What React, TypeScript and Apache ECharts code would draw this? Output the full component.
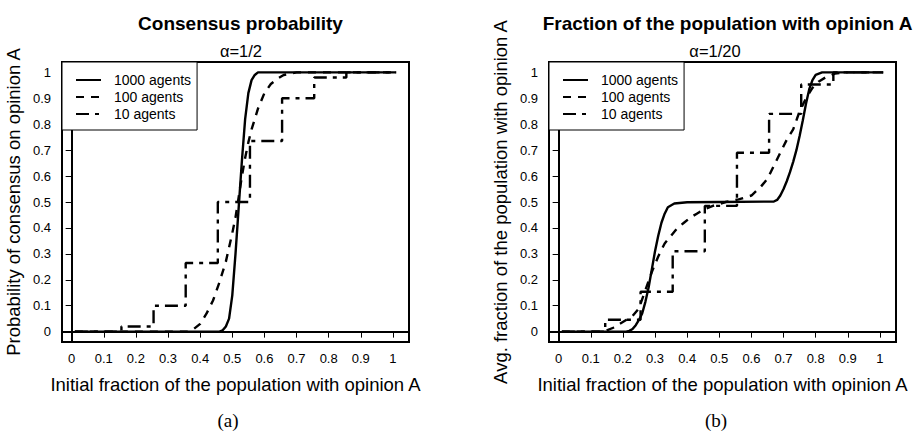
import React, { useEffect, useRef } from "react";
import * as echarts from "echarts";

const TICKS = [0, 0.1, 0.2, 0.3, 0.4, 0.5, 0.6, 0.7, 0.8, 0.9, 1];
const SERIES_NAMES = ["1000 agents", "100 agents", "10 agents"];

// Panel (a): consensus probability, alpha = 1/2
const A_1000_X = [0.01, 0.46, 0.47, 0.48, 0.49, 0.5, 0.51, 0.52, 0.53, 0.54, 0.55, 0.56, 0.57, 0.58, 1.01];
const A_1000_Y = [0, 0, 0.005, 0.02, 0.05, 0.14, 0.3, 0.48, 0.66, 0.82, 0.92, 0.97, 0.99, 1, 1];
const A_100_X = [0.01, 0.36, 0.38, 0.4, 0.42, 0.44, 0.46, 0.48, 0.5, 0.51, 0.52, 0.53, 0.54, 0.55, 0.56, 0.58, 0.6, 0.62, 0.64, 0.66, 0.7, 1.01];
const A_100_Y = [0, 0, 0.01, 0.03, 0.07, 0.12, 0.19, 0.27, 0.38, 0.44, 0.52, 0.6, 0.67, 0.73, 0.78, 0.86, 0.92, 0.955, 0.975, 0.99, 1, 1];
const A_10_X = [0.01, 0.155, 0.255, 0.355, 0.455, 0.555, 0.655, 0.755, 0.855, 1.01];
const A_10_Y = [0, 0.02, 0.1, 0.265, 0.5, 0.735, 0.9, 0.98, 1, 1];

// Panel (b): fraction with opinion A, alpha = 1/20
const B_1000_X = [0.01, 0.21, 0.22, 0.23, 0.24, 0.25, 0.26, 0.27, 0.28, 0.29, 0.3, 0.31, 0.32, 0.33, 0.34, 0.36, 0.4, 0.5, 0.67, 0.68, 0.69, 0.7, 0.71, 0.72, 0.73, 0.74, 0.75, 0.76, 0.77, 0.78, 0.79, 0.8, 0.82, 1.01];
const B_1000_Y = [0, 0, 0.003, 0.01, 0.025, 0.045, 0.07, 0.115, 0.17, 0.24, 0.31, 0.37, 0.42, 0.455, 0.48, 0.494, 0.499, 0.5, 0.502, 0.508, 0.525, 0.55, 0.58, 0.615, 0.655, 0.7, 0.755, 0.815, 0.88, 0.935, 0.97, 0.99, 1, 1];
const B_100_X = [0.01, 0.14, 0.15, 0.17, 0.19, 0.21, 0.23, 0.25, 0.27, 0.29, 0.31, 0.33, 0.35, 0.37, 0.39, 0.41, 0.43, 0.45, 0.48, 0.52, 0.56, 0.6, 0.63, 0.65, 0.67, 0.69, 0.71, 0.73, 0.75, 0.77, 0.79, 0.81, 0.83, 0.86, 0.89, 1.01];
const B_100_Y = [0, 0, 0.005, 0.015, 0.03, 0.045, 0.06, 0.09, 0.16, 0.23, 0.29, 0.34, 0.37, 0.4, 0.42, 0.44, 0.455, 0.47, 0.485, 0.5, 0.51, 0.525, 0.56, 0.59, 0.64, 0.69, 0.74, 0.78, 0.85, 0.9, 0.94, 0.965, 0.98, 0.995, 1, 1];
const B_10_X = [0.01, 0.145, 0.255, 0.355, 0.455, 0.555, 0.655, 0.755, 0.855, 1.01];
const B_10_Y = [0, 0.046, 0.154, 0.31, 0.485, 0.69, 0.84, 0.953, 1, 1];

const FONT = "'Liberation Sans', Arial, Helvetica, sans-serif";
const SERIF = "'Liberation Serif', 'DejaVu Serif', serif";
const pairs = (xs: number[], ys: number[]) => xs.map((x, i) => [x, ys[i]]);

const GRID_W = 347;
const GRID_H = 280;
const GRID_TOP = 62;
const GRID_LEFTS = [62, 549];

function makeXAxis(gridIndex: number) {
  return {
    gridIndex,
    type: "value",
    min: -0.03,
    max: 1.05,
    axisLine: { show: true, lineStyle: { color: "#000", width: 2 } },
    axisTick: { show: true, inside: false, length: 6, customValues: TICKS, lineStyle: { color: "#000", width: 1 } },
    axisLabel: { customValues: TICKS, formatter: (v: number) => String(v), fontSize: 13, color: "#000", margin: 10, fontFamily: FONT },
    splitLine: { show: false },
    name: "Initial fraction of the population with opinion A",
    nameLocation: "middle",
    nameGap: 33,
    nameTextStyle: { fontSize: 18.5, color: "#000", fontFamily: FONT },
  };
}

function makeYAxis(gridIndex: number, name: string) {
  return {
    gridIndex,
    type: "value",
    min: -0.04,
    max: 1.04,
    axisLine: { show: true, lineStyle: { color: "#000", width: 2 } },
    axisTick: { show: true, inside: false, length: 6, customValues: TICKS, lineStyle: { color: "#000", width: 1 } },
    axisLabel: { customValues: TICKS, formatter: (v: number) => String(v), fontSize: 13, color: "#000", margin: 11, fontFamily: FONT },
    splitLine: { show: false },
    name,
    nameLocation: "middle",
    nameGap: 39,
    nameTextStyle: { fontSize: 18.5, color: "#000", fontFamily: FONT },
  };
}

const LINE_STYLES = [
  { color: "#000", width: 2.4, type: "solid" },
  { color: "#000", width: 2.4, type: [8, 7] },
  { color: "#000", width: 2.4, type: [13, 6, 4, 6] },
];

function makeSeries(idx: number, data: number[][][]) {
  return data.map((d, k) => ({
    name: SERIES_NAMES[k],
    type: "line",
    xAxisIndex: idx,
    yAxisIndex: idx,
    data: d,
    symbol: "none",
    step: k === 2 ? "end" : undefined,
    lineStyle: LINE_STYLES[k],
    itemStyle: { color: "#000" },
    z: 3 - k,
  }));
}

function makeLegend(left: number) {
  return {
    data: SERIES_NAMES,
    left,
    top: GRID_TOP,
    orient: "vertical",
    borderColor: "#000",
    borderWidth: 1,
    backgroundColor: "#fff",
    padding: [11, 6, 9, 13],
    itemGap: 3,
    itemWidth: 25,
    itemHeight: 14,
    selectedMode: false,
    itemStyle: { color: "rgba(0,0,0,0)", borderColor: "rgba(0,0,0,0)", borderWidth: 0, opacity: 0 },
    textStyle: { fontSize: 14, color: "#000", fontFamily: FONT, padding: [0, 0, 0, 8] },
  };
}

export default function App() {
  const ref = useRef<HTMLDivElement>(null);
  useEffect(() => {
    if (!ref.current) return;
    const chart = echarts.init(ref.current, null, { renderer: "svg" });
    chart.setOption({
      animation: false,
      backgroundColor: "#fff",
      title: [
        { text: "Consensus probability", left: 235.5, top: 9, textAlign: "center", textStyle: { fontSize: 19, fontWeight: "bold", color: "#000", fontFamily: FONT } },
        { text: "α=1/2", left: 236, top: 37, textAlign: "center", textStyle: { fontSize: 16.5, fontWeight: "normal", color: "#000", fontFamily: FONT } },
        { text: "Fraction of the population with opinion A", left: 722.5, top: 9, textAlign: "center", textStyle: { fontSize: 19, fontWeight: "bold", color: "#000", fontFamily: FONT } },
        { text: "α=1/20", left: 710, top: 37, textAlign: "center", textStyle: { fontSize: 16.5, fontWeight: "normal", color: "#000", fontFamily: FONT } },
        { text: "(a)", left: 228, top: 410, padding: 0, textAlign: "center", textStyle: { fontSize: 19, lineHeight: 20, fontWeight: "normal", color: "#000", fontFamily: SERIF } },
        { text: "(b)", left: 716, top: 410, padding: 0, textAlign: "center", textStyle: { fontSize: 19, lineHeight: 20, fontWeight: "normal", color: "#000", fontFamily: SERIF } },
      ],
      legend: [makeLegend(GRID_LEFTS[0]), makeLegend(GRID_LEFTS[1])],
      grid: GRID_LEFTS.map((left) => ({
        left,
        top: GRID_TOP,
        width: GRID_W,
        height: GRID_H,
        show: true,
        borderColor: "#000",
        borderWidth: 2,
        backgroundColor: "transparent",
      })),
      xAxis: [makeXAxis(0), makeXAxis(1)],
      yAxis: [
        makeYAxis(0, "Probability of consensus on opinion A"),
        makeYAxis(1, "Avg. fraction of the population with opinion A"),
      ],
      series: [
        ...makeSeries(0, [pairs(A_1000_X, A_1000_Y), pairs(A_100_X, A_100_Y), pairs(A_10_X, A_10_Y)]),
        ...makeSeries(1, [pairs(B_1000_X, B_1000_Y), pairs(B_100_X, B_100_Y), pairs(B_10_X, B_10_Y)]),
      ],
    });
    return () => chart.dispose();
  }, []);
  return <div ref={ref} style={{ position: "fixed", left: 0, top: 0, width: 917, height: 433 }} />;
}
